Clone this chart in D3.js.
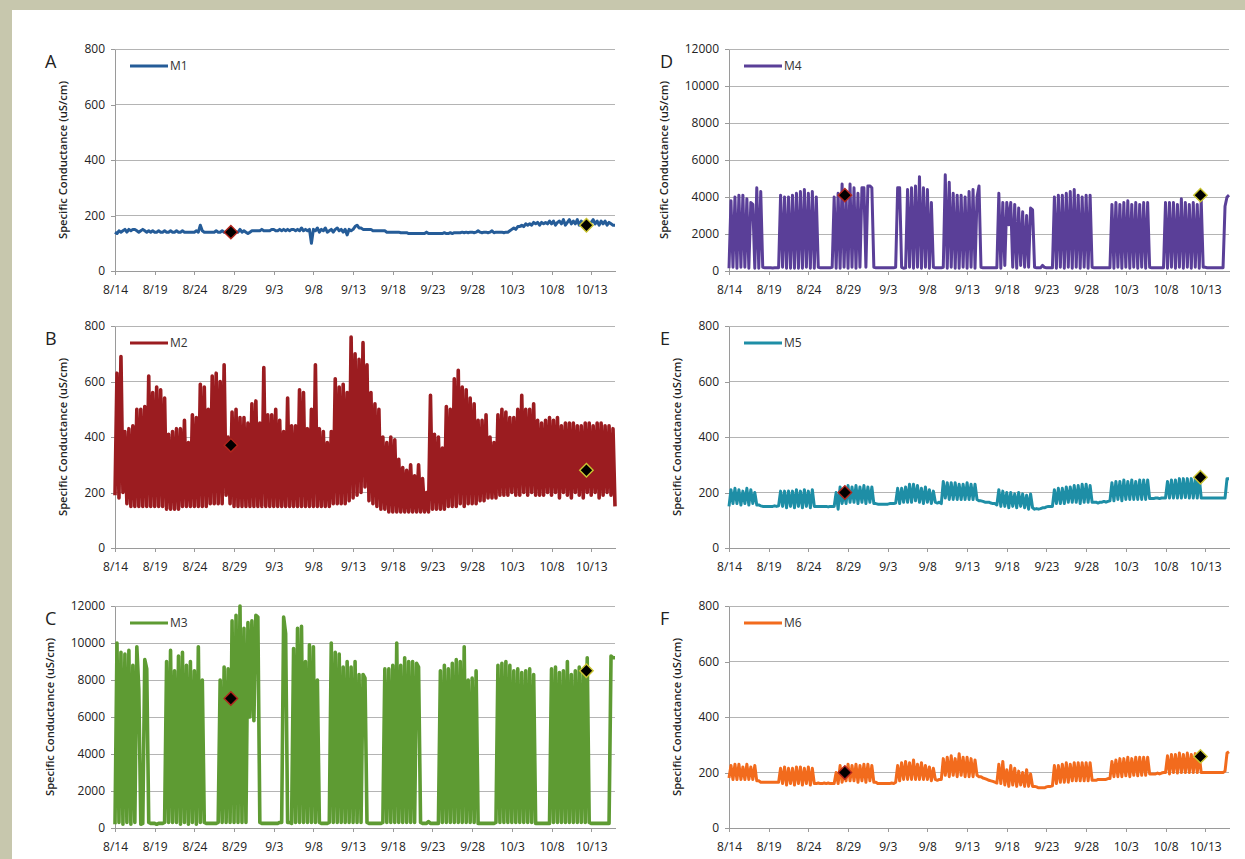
<!DOCTYPE html>
<html>
<head>
<meta charset="utf-8">
<script src="https://cdn.jsdelivr.net/npm/d3@7"></script>
<style>
body { margin: 0; }
.axis path, .axis line { stroke: #9a9a9a; shape-rendering: crispEdges; }
.axis text { font-family: 'Open Sans', sans-serif; font-size: 12px; fill: #222; }
.grid { stroke: #b4b4b4; stroke-width: 1; shape-rendering: crispEdges; }
.series { fill: none; stroke-linejoin: round; }
.letter { font-family: 'Open Sans', sans-serif; font-size: 18px; fill: #222; }
.ytitle { font-family: 'Open Sans', sans-serif; font-size: 11px; font-weight: 600; fill: #222; }
.legend { font-family: 'Open Sans', sans-serif; font-size: 12px; fill: #333; }
</style>
</head>
<body>
<div id="vis"></div>
<script>
// Specific conductance at six sites, 8/14 - 10/15
// Six small line panels in two columns, one series each

/* *************************** Data ***************************** */

// x axis tick labels (every 5 days)
var tickLabels = ['8/14', '8/19', '8/24', '8/29', '9/3', '9/8', '9/13', '9/18', '9/23', '9/28', '10/3', '10/8', '10/13'];

// y axis ticks
var lowTicks = [0, 200, 400, 600, 800];
var highTicks = [0, 2000, 4000, 6000, 8000, 10000, 12000];

// readings every 6 hours from 8/14 00:00, one row = 2 days, last value = 10/16 00:00
var m1 = [
    140,135,145,140, 145,150,140,150,
    145,150,150,145, 140,145,150,145,
    140,145,140,145, 140,140,145,140,
    140,145,140,140, 145,140,140,145,
    140,140,145,140, 140,140,140,140,
    140,145,140,165, 145,140,140,140,
    140,140,140,145, 140,140,145,140,
    140,140,140,145, 145,140,140,150,
    140,145,140,135, 140,145,145,145,
    145,145,150,145, 145,145,145,150,
    150,145,145,150, 145,150,145,150,
    145,150,150,145, 150,145,155,145,
    150,145,150,100, 150,145,155,140,
    150,145,155,140, 145,150,140,150,
    155,145,150,140, 150,130,150,145,
    150,160,165,155, 155,150,150,150,
    150,150,145,145, 145,145,145,145,
    145,140,140,140, 140,140,140,140,
    138,138,138,138, 135,135,135,135,
    135,135,135,135, 135,140,135,135,
    135,135,135,135, 135,135,138,135,
    135,138,135,138, 138,138,138,140,
    138,140,138,140, 140,138,140,145,
    140,138,140,140, 138,140,145,138,
    140,140,140,140, 138,140,140,145,
    150,155,150,160, 160,165,160,170,
    165,170,165,175, 170,175,165,175,
    170,175,170,180, 170,180,165,175,
    180,170,185,165, 175,185,170,180,
    170,185,165,180, 170,165,175,170,
    175,185,170,180, 165,180,170,180,
    165,175,170,165,
    165
];

var m2 = [
    190,630,180,690, 200,420,160,430,
    150,440,150,500, 150,500,150,510,
    150,620,150,560, 150,580,150,570,
    150,540,140,410, 140,420,140,430,
    140,430,150,460, 150,380,150,480,
    150,470,150,590, 150,580,150,500,
    160,620,160,630, 160,600,160,660,
    190,400,160,490, 150,500,150,470,
    150,470,150,450, 150,520,150,530,
    150,450,150,650, 150,480,150,480,
    150,500,150,460, 150,420,150,540,
    150,440,150,440, 150,570,150,560,
    150,430,150,500, 150,660,150,430,
    150,420,150,380, 150,420,160,610,
    160,580,160,590, 160,560,170,760,
    180,700,190,680, 200,740,220,660,
    170,560,160,520, 150,500,140,400,
    140,380,130,400, 130,390,130,320,
    130,290,130,280, 130,300,130,260,
    130,300,130,250, 130,200,130,550,
    140,410,140,400, 140,360,140,510,
    150,500,150,610, 150,640,160,580,
    150,570,160,540, 160,520,160,460,
    170,460,170,480, 180,400,180,380,
    180,480,190,500, 190,490,190,470,
    200,470,190,500, 190,550,200,500,
    190,500,200,520, 190,460,190,450,
    190,460,200,470, 190,460,200,470,
    180,440,200,450, 190,450,180,450,
    200,440,190,440, 180,450,200,450,
    190,440,200,450, 180,450,190,440,
    200,440,190,430,
    150
];

var m3 = [
    200,10000,300,9500, 200,9400,300,9600,
    200,8800,300,9800, 7500,200,250,9100,
    8600,300,250,250, 250,200,250,250,
    250,300,9000,300, 9600,300,8500,300,
    9300,200,9500,300, 8800,200,9000,300,
    8500,200,9800,300, 8000,300,250,250,
    250,250,250,250, 300,8000,300,8700,
    300,8600,300,11200, 300,11500,300,12000,
    300,10800,300,11100, 6000,11200,5800,11500,
    11400,300,250,250, 250,250,250,250,
    250,250,250,300, 300,11400,10500,300,
    300,250,9700,300, 10800,300,10900,300,
    9000,300,9900,300, 9800,300,8000,300,
    250,250,250,250, 300,10000,300,9500,
    300,9400,300,8700, 300,9000,300,8700,
    300,9000,300,8300, 300,8300,8100,300,
    250,250,250,250, 250,250,250,300,
    8600,300,8600,300, 8800,300,10000,300,
    8800,300,9200,300, 9000,300,9000,300,
    8900,8700,300,250, 250,250,350,250,
    250,250,250,250, 8500,300,8800,300,
    8600,300,8900,300, 9100,300,9000,300,
    9800,300,8000,300, 8100,300,8500,250,
    250,250,250,250, 250,250,250,250,
    300,8800,300,8900, 300,9000,300,8800,
    300,8500,300,8600, 300,8400,300,8500,
    300,8600,300,8300, 250,250,250,250,
    250,250,250,250, 8600,300,8700,300,
    8400,300,8500,300, 9000,300,8300,300,
    8500,300,8700,300, 8400,300,9200,300,
    250,250,250,250, 250,250,250,250,
    250,250,9300,9200,
    9200
];

var m4 = [
    150,3800,200,4000, 150,4100,200,4100,
    200,3900,150,3700, 3600,150,4500,150,
    4300,200,180,170, 170,170,160,170,
    170,180,4100,200, 4000,150,4000,150,
    4100,150,4200,150, 4300,150,4400,200,
    4200,150,4300,150, 4000,200,180,180,
    180,170,170,180, 200,4000,150,4200,
    150,4700,200,4000, 150,4700,200,4500,
    150,4200,200,4500, 4500,200,4600,4600,
    4500,200,180,170, 170,170,170,170,
    170,170,170,180, 200,4500,4500,200,
    150,170,4400,200, 4500,150,4600,200,
    5100,150,4500,200, 4400,150,3700,200,
    180,170,170,170, 200,5200,150,4800,
    200,4200,150,4100, 150,4100,200,4000,
    150,4300,200,4400, 150,4000,4600,200,
    170,170,170,170, 170,170,170,180,
    4200,150,3700,300, 3700,2500,3700,200,
    3600,150,3400,300, 3200,200,3000,200,
    3400,3300,200,170, 170,170,300,200,
    170,170,170,170, 4000,150,4100,200,
    4100,150,4200,200, 4300,150,4400,200,
    4100,150,4000,200, 4100,150,4100,200,
    180,180,170,170, 170,170,170,180,
    180,3600,150,3700, 200,3600,150,3700,
    200,3800,150,3600, 200,3700,150,3600,
    200,3700,150,3700, 200,180,170,170,
    170,170,170,180, 3700,150,3700,200,
    3700,150,3600,200, 3900,150,3700,200,
    3600,150,3700,200, 3600,150,3800,200,
    200,180,180,180, 180,180,180,180,
    180,180,3500,4000,
    4100
];

var m5 = [
    150,210,160,215, 160,210,155,205,
    160,215,155,210, 160,200,155,155,
    152,150,150,150, 150,150,150,152,
    150,152,205,150, 205,145,205,150,
    205,145,210,150, 205,145,210,150,
    205,145,210,150, 150,150,150,150,
    150,150,148,150, 150,150,200,140,
    220,160,200,160, 225,165,220,165,
    225,160,220,165, 225,160,220,165,
    220,160,160,158, 158,158,158,158,
    158,160,160,160, 162,215,160,215,
    165,220,165,230, 165,230,170,225,
    165,215,160,220, 165,210,160,205,
    165,162,165,160, 240,180,235,175,
    235,175,235,175, 230,175,230,175,
    235,175,230,175, 230,175,170,170,
    168,165,165,165, 162,160,160,155,
    210,150,205,150, 200,145,200,150,
    195,145,200,150, 195,145,190,140,
    195,145,140,142, 140,142,145,145,
    148,150,150,150, 210,160,215,160,
    215,160,220,165, 220,165,225,165,
    225,160,230,165, 230,165,225,165,
    165,165,162,165, 165,168,165,168,
    170,235,170,240, 175,240,170,245,
    175,240,175,245, 175,240,175,245,
    175,245,175,245, 178,178,178,180,
    180,178,180,180, 180,240,180,245,
    180,245,180,250, 180,250,182,250,
    180,250,180,250, 180,255,180,180,
    180,180,180,180, 180,180,180,180,
    180,180,180,250,
    250
];

var m6 = [
    180,225,175,230, 175,230,175,220,
    175,230,175,220, 175,225,170,170,
    165,165,165,165, 165,165,165,165,
    165,165,215,160, 220,155,215,160,
    215,155,220,160, 220,155,215,160,
    220,155,215,160, 160,162,160,160,
    162,160,162,160, 160,160,200,160,
    225,165,200,170, 230,170,225,170,
    230,165,225,170, 230,165,230,170,
    225,165,165,160, 160,160,160,160,
    160,160,162,160, 165,225,170,235,
    175,240,175,235, 175,245,175,230,
    175,235,175,225, 175,220,170,215,
    175,172,175,175, 250,190,255,185,
    260,190,250,185, 268,190,255,185,
    255,185,250,185, 245,190,185,185,
    180,178,175,172, 170,168,165,162,
    230,160,240,155, 210,150,225,155,
    215,150,205,155, 200,150,210,150,
    195,150,150,148, 145,145,145,145,
    148,150,150,152, 225,160,225,165,
    230,165,235,165, 230,170,235,170,
    235,170,235,170, 235,170,235,172,
    172,172,175,175, 175,175,175,178,
    178,240,185,245, 185,250,185,250,
    188,255,185,250, 190,255,188,255,
    190,255,190,255, 195,195,195,195,
    198,195,198,200, 200,260,195,265,
    200,265,198,270, 200,265,200,270,
    200,265,200,268, 200,260,200,200,
    200,200,200,200, 200,200,200,200,
    200,200,205,270,
    275
];

// spot samples: days after 8/14, and the value at each site
var sampleDays = [14.6, 59.4];
var m1Samples = [140, 165];
var m2Samples = [370, 280];
var m3Samples = [7000, 8500];
var m4Samples = [4100, 4100];
var m5Samples = [200, 255];
var m6Samples = [200, 258];

/* *************************** Settings ***************************** */

var width = 1245;
var height = 859;

// plot areas: column left edges, row top edges
var colLeft = [115, 729];
var rowTop = [49, 326, 606];
var plotWidth = 500;
var plotHeight = 222;

var sampleStroke = ['#b3261e', '#c9c431'];

var panels = [
    { letter: 'A', name: 'M1', values: m1, samples: m1Samples, ticks: lowTicks, color: '#255c98', lineWidth: 3, col: 0, row: 0 },
    { letter: 'B', name: 'M2', values: m2, samples: m2Samples, ticks: lowTicks, color: '#9b1c20', lineWidth: 3.6, col: 0, row: 1 },
    { letter: 'C', name: 'M3', values: m3, samples: m3Samples, ticks: highTicks, color: '#5e9b33', lineWidth: 3.6, col: 0, row: 2 },
    { letter: 'D', name: 'M4', values: m4, samples: m4Samples, ticks: highTicks, color: '#5a3f98', lineWidth: 3, col: 1, row: 0 },
    { letter: 'E', name: 'M5', values: m5, samples: m5Samples, ticks: lowTicks, color: '#1e8ea6', lineWidth: 3, col: 1, row: 1 },
    { letter: 'F', name: 'M6', values: m6, samples: m6Samples, ticks: lowTicks, color: '#f26b1d', lineWidth: 3, col: 1, row: 2 }
];

/* *************************** Static elements ***************************** */

var svg = d3.select('#vis')
    .append('svg')
    .attr('width', width)
    .attr('height', height);

// khaki frame with the white page on it
svg.append('rect')
    .attr('width', width)
    .attr('height', height)
    .attr('fill', '#c7c7ad');

svg.append('rect')
    .attr('x', 12)
    .attr('y', 10)
    .attr('width', width - 12)
    .attr('height', height - 10)
    .attr('fill', '#fff');

// time helpers
var start = new Date(Date.UTC(2012, 7, 14));
var end = d3.utcDay.offset(start, 63);
var tickDates = tickLabels.map(function(s) {
    var p = s.split('/');
    return new Date(Date.UTC(2012, +p[0] - 1, +p[1]));
});
var timeAt = function(i) {
    return d3.utcHour.offset(start, i * 6);
};
var dayAt = function(d) {
    return new Date(start.getTime() + d * 864e5);
};

/* *************************** Draw function ***************************** */

var drawPanel = function(p) {
    var x0 = colLeft[p.col];
    var y0 = rowTop[p.row];

    var xScale = d3.scaleUtc()
        .domain([start, end])
        .range([0, plotWidth]);

    var yScale = d3.scaleLinear()
        .domain([0, d3.max(p.ticks)])
        .range([plotHeight, 0]);

    var g = svg.append('g')
        .attr('transform', 'translate(' + x0 + ',' + y0 + ')');

    // gridlines
    g.selectAll('.grid')
        .data(p.ticks.slice(1))
        .enter().append('line')
        .attr('class', 'grid')
        .attr('x1', 0)
        .attr('x2', plotWidth)
        .attr('y1', function(d) { return yScale(d); })
        .attr('y2', function(d) { return yScale(d); });

    var yAxisG = g.append('g')
        .attr('class', 'axis')
        .call(d3.axisLeft(yScale)
            .tickValues(p.ticks)
            .tickFormat(d3.format('d'))
            .tickSize(4)
            .tickSizeOuter(0)
            .tickPadding(6));

    g.append('g')
        .attr('class', 'axis')
        .attr('transform', 'translate(0,' + plotHeight + ')')
        .call(d3.axisBottom(xScale)
            .tickValues(tickDates)
            .tickFormat(function(d, i) { return tickLabels[i]; })
            .tickSize(4)
            .tickSizeOuter(0)
            .tickPadding(10));

    // the series
    var line = d3.line()
        .x(function(d, i) { return xScale(timeAt(i)); })
        .y(function(d) { return yScale(d); });

    g.append('path')
        .datum(p.values)
        .attr('class', 'series')
        .attr('d', line)
        .attr('stroke', p.color)
        .attr('stroke-width', p.lineWidth);

    // spot samples
    g.selectAll('.sample')
        .data(p.samples)
        .enter().append('path')
        .attr('class', 'sample')
        .attr('d', d3.symbol().type(d3.symbolSquare).size(90))
        .attr('transform', function(d, i) {
            return 'translate(' + xScale(dayAt(sampleDays[i])) + ',' + yScale(d) + ') rotate(45)';
        })
        .attr('fill', '#000')
        .attr('stroke', function(d, i) { return sampleStroke[i]; })
        .attr('stroke-width', 1.4);

    // legend
    g.append('line')
        .attr('x1', 15)
        .attr('x2', 53)
        .attr('y1', 17)
        .attr('y2', 17)
        .attr('stroke', p.color)
        .attr('stroke-width', 3);

    g.append('text')
        .attr('class', 'legend')
        .attr('x', 55)
        .attr('y', 21)
        .text(p.name);

    // y title, just left of the tick labels
    var bb = yAxisG.node().getBBox();
    g.append('text')
        .attr('class', 'ytitle')
        .attr('transform', 'translate(' + (bb.x - 21) + ',' + (plotHeight / 2) + ') rotate(-90)')
        .attr('text-anchor', 'middle')
        .attr('dy', '0.35em')
        .attr('textLength', 158)
        .attr('lengthAdjust', 'spacingAndGlyphs')
        .text('Specific Conductance (uS/cm)');

    // panel letter
    g.append('text')
        .attr('class', 'letter')
        .attr('x', (p.col === 0 ? 45 : 660) - x0)
        .attr('y', 19)
        .text(p.letter);
};

panels.forEach(drawPanel);
</script>
</body>
</html>
